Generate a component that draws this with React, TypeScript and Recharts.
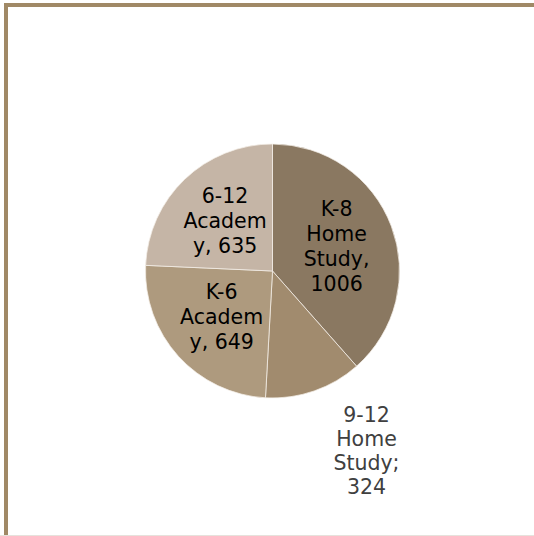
import { PieChart, Pie, Cell } from 'recharts'

const programs = ['K-8 Home Study', '9-12 Home Study', 'K-6 Academy', '6-12 Academy']
const students = [1006, 324, 649, 635]
const colors = ['#8a7861', '#a18b6e', '#ae9a7e', '#c5b5a6']
const separators = [',', ';', ',', ',']
const outsideLabel = [false, true, false, false]

const data = programs.map((name, i) => ({
  name,
  value: students[i],
  sep: separators[i],
  outside: outsideLabel[i],
}))

const RADIAN = Math.PI / 180

// Excel-ish wrapping: greedy, max 6 chars per line, long words get chopped
const wrap = (text: string, max = 6) => {
  const lines: string[] = []
  let cur = ''
  for (let word of text.split(' ')) {
    while (word.length > max) {
      if (cur) {
        lines.push(cur)
        cur = ''
      }
      lines.push(word.slice(0, max))
      word = word.slice(max)
    }
    const next = cur ? cur + ' ' + word : word
    if (next.length <= max) cur = next
    else {
      lines.push(cur)
      cur = word
    }
  }
  if (cur) lines.push(cur)
  return lines
}

const renderLabel = (props: any) => {
  const { cx, cy, midAngle, outerRadius, payload } = props
  const entry = payload.payload ?? payload
  const lines = wrap(`${entry.name}${entry.sep} ${entry.value}`)
  let lineH = 25
  let x: number
  let y: number
  let fill = '#000'
  if (entry.outside) {
    x = cx + outerRadius * 0.74
    y = cy + outerRadius * 1.42
    fill = '#404040'
    lineH = 24
  } else {
    const r = outerRadius * 0.54
    x = cx + r * Math.cos(-midAngle * RADIAN)
    y = cy + r * Math.sin(-midAngle * RADIAN)
  }
  const top = y - ((lines.length - 1) * lineH) / 2
  return (
    <text
      x={x}
      y={top}
      fill={fill}
      textAnchor="middle"
      dominantBaseline="central"
      fontFamily="DejaVu Sans, Verdana, sans-serif"
      fontSize={20.5}
    >
      {lines.map((l, i) => (
        <tspan key={i} x={x} y={top + i * lineH}>
          {l}
        </tspan>
      ))}
    </text>
  )
}

export default function App() {
  return (
    <div style={{ position: 'absolute', left: 0, top: 0, width: 534, height: 536, background: '#fff' }}>
      {/* frame: top + left only, like the original slide */}
      <div
        style={{
          position: 'absolute',
          left: 4,
          top: 3,
          width: 530,
          height: 533,
          borderTop: '4px solid #a08966',
          borderLeft: '4px solid #a08966',
          boxSizing: 'border-box',
        }}
      />
      <div style={{ position: 'absolute', left: 0, top: 535, width: 534, height: 1, background: '#e6e2dc' }} />
      <div style={{ position: 'absolute', left: 0, top: 0 }}>
        <PieChart width={534} height={536} margin={{ top: 0, right: 0, bottom: 0, left: 0 }}>
          <Pie
            data={data}
            dataKey="value"
            nameKey="name"
            cx={272.5}
            cy={271}
            outerRadius={127}
            startAngle={90}
            endAngle={-270}
            label={renderLabel}
            labelLine={false}
            isAnimationActive={false}
          >
            {data.map((entry, index) => (
              <Cell key={`cell-${index}`} fill={colors[index]} stroke="#f4efe8" strokeWidth={0.75} />
            ))}
          </Pie>
        </PieChart>
      </div>
    </div>
  )
}
